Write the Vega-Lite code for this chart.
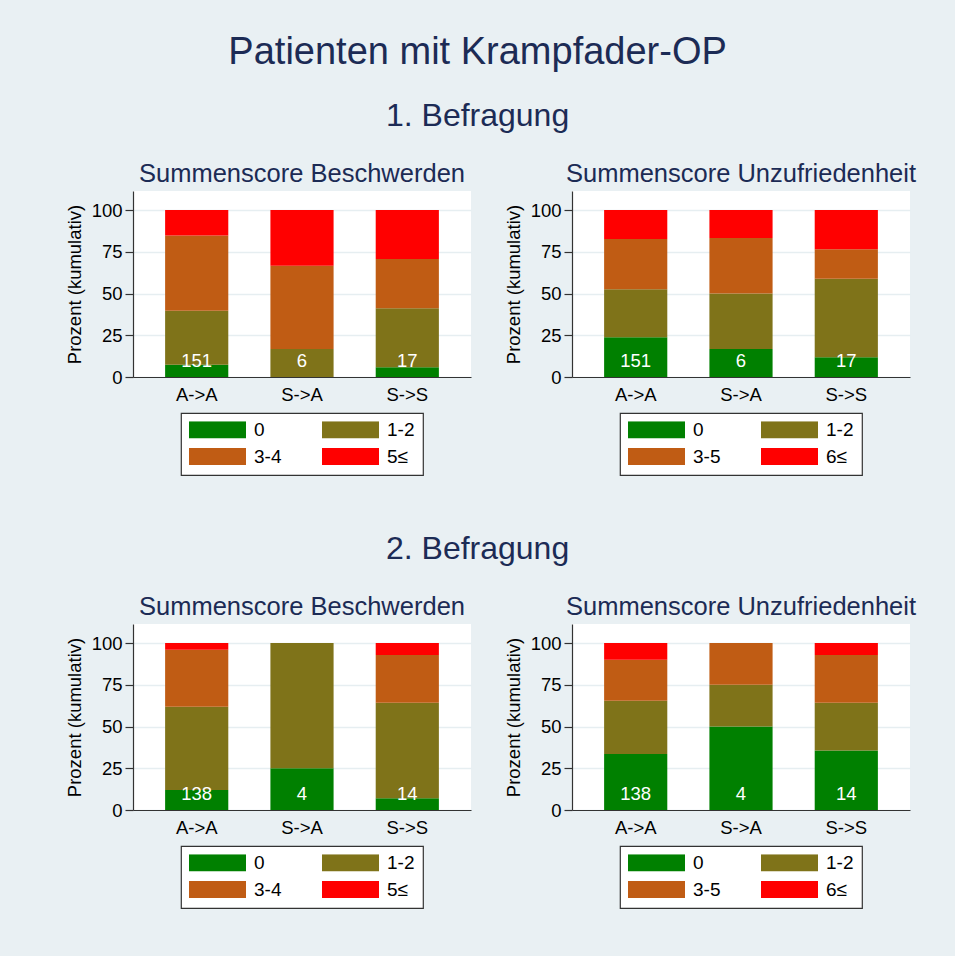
{
  "$schema": "https://vega.github.io/schema/vega-lite/v6.json",
  "background": "#e9f0f3",
  "padding": {"left": 65, "top": 33, "right": 41, "bottom": 50},
  "title": {"text": "Patienten mit Krampfader-OP", "fontSize": 38, "offset": 28, "dx": -13},
  "data": {"values": [
    {"w": 1, "s": "B", "g": "A->A", "k": 1, "c": "0", "v": 7.3, "n": 151},
    {"w": 1, "s": "B", "g": "A->A", "k": 2, "c": "1-2", "v": 32.4, "n": 151},
    {"w": 1, "s": "B", "g": "A->A", "k": 3, "c": "3-4", "v": 45.0, "n": 151},
    {"w": 1, "s": "B", "g": "A->A", "k": 4, "c": "5≤", "v": 15.3, "n": 151},
    {"w": 1, "s": "B", "g": "S->A", "k": 1, "c": "0", "v": 0, "n": 6},
    {"w": 1, "s": "B", "g": "S->A", "k": 2, "c": "1-2", "v": 16.7, "n": 6},
    {"w": 1, "s": "B", "g": "S->A", "k": 3, "c": "3-4", "v": 50.0, "n": 6},
    {"w": 1, "s": "B", "g": "S->A", "k": 4, "c": "5≤", "v": 33.3, "n": 6},
    {"w": 1, "s": "B", "g": "S->S", "k": 1, "c": "0", "v": 5.9, "n": 17},
    {"w": 1, "s": "B", "g": "S->S", "k": 2, "c": "1-2", "v": 35.3, "n": 17},
    {"w": 1, "s": "B", "g": "S->S", "k": 3, "c": "3-4", "v": 29.4, "n": 17},
    {"w": 1, "s": "B", "g": "S->S", "k": 4, "c": "5≤", "v": 29.4, "n": 17},
    {"w": 1, "s": "U", "g": "A->A", "k": 1, "c": "0", "v": 23.8, "n": 151},
    {"w": 1, "s": "U", "g": "A->A", "k": 2, "c": "1-2", "v": 28.8, "n": 151},
    {"w": 1, "s": "U", "g": "A->A", "k": 3, "c": "3-5", "v": 30.0, "n": 151},
    {"w": 1, "s": "U", "g": "A->A", "k": 4, "c": "6≤", "v": 17.4, "n": 151},
    {"w": 1, "s": "U", "g": "S->A", "k": 1, "c": "0", "v": 16.7, "n": 6},
    {"w": 1, "s": "U", "g": "S->A", "k": 2, "c": "1-2", "v": 33.3, "n": 6},
    {"w": 1, "s": "U", "g": "S->A", "k": 3, "c": "3-5", "v": 33.3, "n": 6},
    {"w": 1, "s": "U", "g": "S->A", "k": 4, "c": "6≤", "v": 16.7, "n": 6},
    {"w": 1, "s": "U", "g": "S->S", "k": 1, "c": "0", "v": 11.8, "n": 17},
    {"w": 1, "s": "U", "g": "S->S", "k": 2, "c": "1-2", "v": 47.0, "n": 17},
    {"w": 1, "s": "U", "g": "S->S", "k": 3, "c": "3-5", "v": 17.7, "n": 17},
    {"w": 1, "s": "U", "g": "S->S", "k": 4, "c": "6≤", "v": 23.5, "n": 17},
    {"w": 2, "s": "B", "g": "A->A", "k": 1, "c": "0", "v": 12.0, "n": 138},
    {"w": 2, "s": "B", "g": "A->A", "k": 2, "c": "1-2", "v": 49.8, "n": 138},
    {"w": 2, "s": "B", "g": "A->A", "k": 3, "c": "3-4", "v": 34.2, "n": 138},
    {"w": 2, "s": "B", "g": "A->A", "k": 4, "c": "5≤", "v": 4.0, "n": 138},
    {"w": 2, "s": "B", "g": "S->A", "k": 1, "c": "0", "v": 25.0, "n": 4},
    {"w": 2, "s": "B", "g": "S->A", "k": 2, "c": "1-2", "v": 75.0, "n": 4},
    {"w": 2, "s": "B", "g": "S->A", "k": 3, "c": "3-4", "v": 0, "n": 4},
    {"w": 2, "s": "B", "g": "S->A", "k": 4, "c": "5≤", "v": 0, "n": 4},
    {"w": 2, "s": "B", "g": "S->S", "k": 1, "c": "0", "v": 7.1, "n": 14},
    {"w": 2, "s": "B", "g": "S->S", "k": 2, "c": "1-2", "v": 57.2, "n": 14},
    {"w": 2, "s": "B", "g": "S->S", "k": 3, "c": "3-4", "v": 28.6, "n": 14},
    {"w": 2, "s": "B", "g": "S->S", "k": 4, "c": "5≤", "v": 7.1, "n": 14},
    {"w": 2, "s": "U", "g": "A->A", "k": 1, "c": "0", "v": 33.5, "n": 138},
    {"w": 2, "s": "U", "g": "A->A", "k": 2, "c": "1-2", "v": 31.9, "n": 138},
    {"w": 2, "s": "U", "g": "A->A", "k": 3, "c": "3-5", "v": 24.6, "n": 138},
    {"w": 2, "s": "U", "g": "A->A", "k": 4, "c": "6≤", "v": 10.0, "n": 138},
    {"w": 2, "s": "U", "g": "S->A", "k": 1, "c": "0", "v": 50.0, "n": 4},
    {"w": 2, "s": "U", "g": "S->A", "k": 2, "c": "1-2", "v": 25.0, "n": 4},
    {"w": 2, "s": "U", "g": "S->A", "k": 3, "c": "3-5", "v": 25.0, "n": 4},
    {"w": 2, "s": "U", "g": "S->A", "k": 4, "c": "6≤", "v": 0, "n": 4},
    {"w": 2, "s": "U", "g": "S->S", "k": 1, "c": "0", "v": 35.7, "n": 14},
    {"w": 2, "s": "U", "g": "S->S", "k": 2, "c": "1-2", "v": 28.6, "n": 14},
    {"w": 2, "s": "U", "g": "S->S", "k": 3, "c": "3-5", "v": 28.6, "n": 14},
    {"w": 2, "s": "U", "g": "S->S", "k": 4, "c": "6≤", "v": 7.1, "n": 14}
  ]},
  "spacing": 56,
  "resolve": {"scale": {"color": "independent", "x": "independent", "y": "independent"}},
  "vconcat": [
    {
      "title": {"text": "1. Befragung", "fontSize": 32, "offset": 29, "dx": -13},
      "spacing": 33,
      "resolve": {"scale": {"color": "independent", "x": "independent", "y": "independent"}},
      "hconcat": [
        {
          "title": "Summenscore Beschwerden",
          "width": 338, "height": 186,
          "transform": [{"filter": "datum.w == 1 && datum.s == 'B'"}],
          "encoding": {
            "x": {"field": "g", "type": "nominal", "sort": ["A->A", "S->A", "S->S"], "scale": {"paddingInner": 0.4, "paddingOuter": 0.305}, "axis": {"title": null}}
          },
          "layer": [
            {
              "mark": {"type": "bar"},
              "encoding": {
                "y": {"field": "v", "type": "quantitative", "stack": "zero", "scale": {"domain": [0, 111.4], "nice": false}, "axis": {"title": "Prozent (kumulativ)", "values": [0, 25, 50, 75, 100]}},
                "color": {"field": "c", "type": "nominal", "scale": {"domain": ["0", "1-2", "3-4", "5≤"], "range": ["#008000", "#7f7319", "#c05c14", "#ff0000"]}},
                "order": {"field": "k"}
              }
            },
            {
              "transform": [{"filter": "datum.k == 1"}],
              "mark": {"type": "text", "color": "white", "fontSize": 18.5, "baseline": "alphabetic"},
              "encoding": {"y": {"datum": 6, "type": "quantitative", "axis": {"title": "Prozent (kumulativ)", "values": [0, 25, 50, 75, 100]}}, "text": {"field": "n"}}
            }
          ]
        },
        {
          "title": "Summenscore Unzufriedenheit",
          "width": 338, "height": 186,
          "transform": [{"filter": "datum.w == 1 && datum.s == 'U'"}],
          "encoding": {
            "x": {"field": "g", "type": "nominal", "sort": ["A->A", "S->A", "S->S"], "scale": {"paddingInner": 0.4, "paddingOuter": 0.305}, "axis": {"title": null}}
          },
          "layer": [
            {
              "mark": {"type": "bar"},
              "encoding": {
                "y": {"field": "v", "type": "quantitative", "stack": "zero", "scale": {"domain": [0, 111.4], "nice": false}, "axis": {"title": "Prozent (kumulativ)", "values": [0, 25, 50, 75, 100]}},
                "color": {"field": "c", "type": "nominal", "scale": {"domain": ["0", "1-2", "3-5", "6≤"], "range": ["#008000", "#7f7319", "#c05c14", "#ff0000"]}},
                "order": {"field": "k"}
              }
            },
            {
              "transform": [{"filter": "datum.k == 1"}],
              "mark": {"type": "text", "color": "white", "fontSize": 18.5, "baseline": "alphabetic"},
              "encoding": {"y": {"datum": 6, "type": "quantitative", "axis": {"title": "Prozent (kumulativ)", "values": [0, 25, 50, 75, 100]}}, "text": {"field": "n"}}
            }
          ]
        }
      ]
    },
    {
      "title": {"text": "2. Befragung", "fontSize": 32, "offset": 29, "dx": -13},
      "spacing": 33,
      "resolve": {"scale": {"color": "independent", "x": "independent", "y": "independent"}},
      "hconcat": [
        {
          "title": "Summenscore Beschwerden",
          "width": 338, "height": 186,
          "transform": [{"filter": "datum.w == 2 && datum.s == 'B'"}],
          "encoding": {
            "x": {"field": "g", "type": "nominal", "sort": ["A->A", "S->A", "S->S"], "scale": {"paddingInner": 0.4, "paddingOuter": 0.305}, "axis": {"title": null}}
          },
          "layer": [
            {
              "mark": {"type": "bar"},
              "encoding": {
                "y": {"field": "v", "type": "quantitative", "stack": "zero", "scale": {"domain": [0, 111.4], "nice": false}, "axis": {"title": "Prozent (kumulativ)", "values": [0, 25, 50, 75, 100]}},
                "color": {"field": "c", "type": "nominal", "scale": {"domain": ["0", "1-2", "3-4", "5≤"], "range": ["#008000", "#7f7319", "#c05c14", "#ff0000"]}},
                "order": {"field": "k"}
              }
            },
            {
              "transform": [{"filter": "datum.k == 1"}],
              "mark": {"type": "text", "color": "white", "fontSize": 18.5, "baseline": "alphabetic"},
              "encoding": {"y": {"datum": 6, "type": "quantitative", "axis": {"title": "Prozent (kumulativ)", "values": [0, 25, 50, 75, 100]}}, "text": {"field": "n"}}
            }
          ]
        },
        {
          "title": "Summenscore Unzufriedenheit",
          "width": 338, "height": 186,
          "transform": [{"filter": "datum.w == 2 && datum.s == 'U'"}],
          "encoding": {
            "x": {"field": "g", "type": "nominal", "sort": ["A->A", "S->A", "S->S"], "scale": {"paddingInner": 0.4, "paddingOuter": 0.305}, "axis": {"title": null}}
          },
          "layer": [
            {
              "mark": {"type": "bar"},
              "encoding": {
                "y": {"field": "v", "type": "quantitative", "stack": "zero", "scale": {"domain": [0, 111.4], "nice": false}, "axis": {"title": "Prozent (kumulativ)", "values": [0, 25, 50, 75, 100]}},
                "color": {"field": "c", "type": "nominal", "scale": {"domain": ["0", "1-2", "3-5", "6≤"], "range": ["#008000", "#7f7319", "#c05c14", "#ff0000"]}},
                "order": {"field": "k"}
              }
            },
            {
              "transform": [{"filter": "datum.k == 1"}],
              "mark": {"type": "text", "color": "white", "fontSize": 18.5, "baseline": "alphabetic"},
              "encoding": {"y": {"datum": 6, "type": "quantitative", "axis": {"title": "Prozent (kumulativ)", "values": [0, 25, 50, 75, 100]}}, "text": {"field": "n"}}
            }
          ]
        }
      ]
    }
  ],
  "config": {
    "font": "Liberation Sans",
    "view": {"fill": "white", "stroke": null},
    "title": {"font": "Liberation Sans", "fontSize": 25.5, "fontWeight": "normal", "color": "#1c2b55", "anchor": "middle", "offset": 4},
    "axis": {
      "labelFont": "Liberation Sans", "labelFontSize": 18.5, "labelColor": "#000000",
      "titleFont": "Liberation Sans", "titleFontSize": 18.5, "titleFontWeight": "normal", "titleColor": "#000000",
      "domainColor": "#333333", "domainWidth": 1.2, "tickColor": "#333333", "tickWidth": 1.2, "tickSize": 8,
      "gridColor": "#e6eef1", "gridWidth": 1.5
    },
    "axisX": {"ticks": false, "grid": false, "labelAngle": 0, "labelPadding": 8},
    "axisY": {"labelPadding": 3, "titlePadding": 7, "grid": true},
    "bar": {"stroke": null},
    "legend": {
      "orient": "none", "legendX": 48, "legendY": 222, "direction": "horizontal", "columns": 2,
      "title": null, "symbolType": "M-1,-0.298H1V0.298H-1Z", "symbolSize": 3249, "clipHeight": 17,
      "labelFont": "Liberation Sans", "labelFontSize": 19, "labelColor": "#000000", "labelOffset": 8,
      "columnPadding": 40, "rowPadding": 7, "padding": 8,
      "strokeColor": "#333333", "strokeWidth": 1.2, "fillColor": "white", "symbolStrokeWidth": 0, "symbolOpacity": 1
    }
  }
}
